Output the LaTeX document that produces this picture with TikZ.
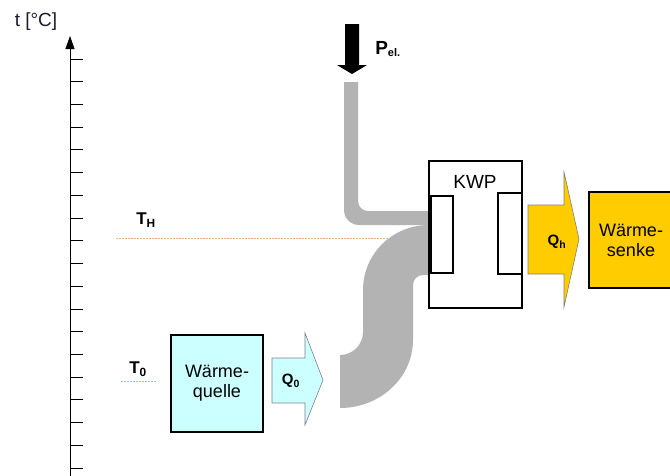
\documentclass[tikz,border=0pt]{standalone}
\usepackage{fontspec}
\setmainfont{Liberation Sans}
\usetikzlibrary{arrows.meta}
\definecolor{pipegray}{HTML}{B3B3B3}
\definecolor{lcyan}{HTML}{CCFFFF}
\definecolor{hyellow}{HTML}{FFCC00}
\definecolor{salmon}{HTML}{F4B183}
\definecolor{lblue}{HTML}{9DC3E6}
\definecolor{txtdark}{HTML}{1A1A2E}
\begin{document}
\begin{tikzpicture}[x=1pt,y=-1pt,
  box/.style={draw=black,line width=1.6pt,inner sep=0pt,align=center,font=\fontsize{18}{20}\selectfont},
  flowarrow/.style={draw=gray,line width=0.6pt},
  lbl/.style={font=\fontsize{17}{19}\selectfont\bfseries,inner sep=0pt},
  qlbl/.style={font=\fontsize{15}{17}\selectfont\bfseries,inner sep=0pt},
  tick/.style={line width=0.8pt}]
\useasboundingbox (0,0) rectangle (670,475);
% axis
\coordinate (ax0) at (70,476);
\coordinate (ax1) at (70,36);
\draw[line width=0.9pt,-{Triangle[length=13pt,width=9pt]}] (ax0) -- (ax1);
\foreach \i in {0,...,18} {
  \draw[tick] (70,59+22.72*\i) -- (83,59+22.72*\i);
}
\node[font=\fontsize{19}{21}\selectfont,text=txtdark,inner sep=0pt] (tlabel) at (36,22) {t [°C]};
% temperature levels
\node[lbl] (TH) at (146,220) {T\textsubscript{H}};
\coordinate (thA) at (116,238);
\coordinate (thB) at (400,238);
\draw[salmon,dash pattern=on 2pt off 1pt,line width=0.9pt] (thA) -- (thB);
\node[lbl] (T0) at (138,369) {T\textsubscript{0}};
\coordinate (t0A) at (121,381);
\coordinate (t0B) at (157,381);
\draw[lblue,dash pattern=on 2pt off 1pt,line width=0.7pt] (t0A) -- (t0B);
% electric power arrow
\fill[black] (345,24) -- (359,24) -- (359,65) -- (367,65) -- (352,74) -- (337,65) -- (345,65) -- cycle;
\node[font=\fontsize{19}{21}\selectfont\bfseries,inner sep=0pt] (Pel) at (388,49) {P\textsubscript{\fontsize{11}{12}\selectfont el.}};
% gray pipes
\fill[pipegray] (344,82) -- (344,210) .. controls (344,218.3) and (350.7,225) .. (359,225)
  -- (429,225) -- (429,211) -- (368,211) .. controls (362.5,211) and (358,206.5) .. (358,201)
  -- (358,82) -- cycle;
\fill[pipegray] (429,225) .. controls (392.1,225) and (363,254.1) .. (363,290)
  -- (363,332) .. controls (363,344.7) and (352.7,355) .. (340,355)
  -- (340,408) .. controls (380.3,408) and (413,377.5) .. (413,340)
  -- (413,285) .. controls (413,279.5) and (417.5,275) .. (423,275)
  -- (429,275) -- cycle;
% KWP
\node[box,line width=1.3pt,fill=white,minimum width=93pt,minimum height=147pt] (kwp) at (475.5,234.5) {};
\node[font=\fontsize{19}{21}\selectfont,inner sep=0pt] (kwptext) at (475,182) {KWP};
\node[draw=black,line width=1.3pt,minimum width=22pt,minimum height=77pt,inner sep=0pt] (evap) at (442,234.5) {};
\node[draw=black,line width=1.3pt,minimum width=24pt,minimum height=81pt,inner sep=0pt] (cond) at (510,233.5) {};
% heat source
\node[box,fill=lcyan,minimum width=92pt,minimum height=97pt] (quelle) at (217,383.5) {Wärme-\\quelle};
\draw[flowarrow,fill=lcyan] (272,358) -- (305,358) -- (305,333) -- (323,380) -- (305,425) -- (305,403) -- (272,403) -- cycle;
\node[qlbl] (Q0) at (291,381) {Q\textsubscript{0}};
% heat sink
\draw[flowarrow,fill=hyellow] (528,205) -- (564,205) -- (564,172) -- (579,239) -- (564,307) -- (564,274) -- (528,274) -- cycle;
\node[qlbl] (Qh) at (557,242) {Q\textsubscript{h}};
\node[box,fill=hyellow,minimum width=84pt,minimum height=96pt] (senke) at (631,240) {Wärme-\\senke};
\end{tikzpicture}
\end{document}
